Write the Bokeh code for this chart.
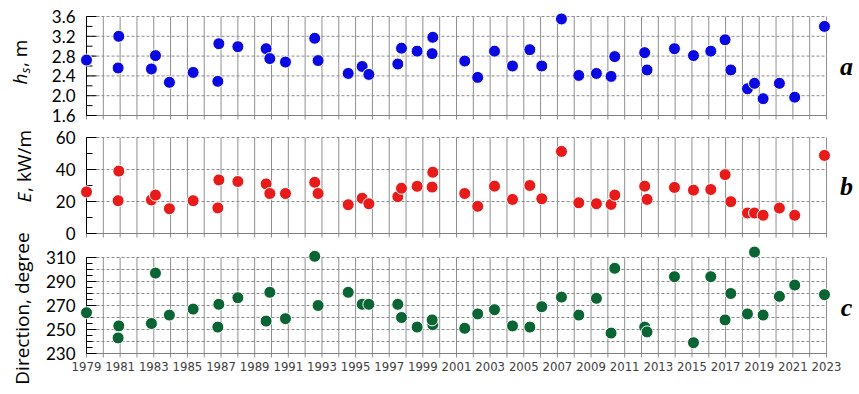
from math import pi
from bokeh.plotting import figure
from bokeh.layouts import column, row
from bokeh.models import Range1d, Label
from bokeh.core.properties import value
from bokeh.embed import file_html
from bokeh.resources import INLINE

# ---------------- data ----------------
years = list(range(1979, 2024))
year_labels = years[::2]
year_label_text = [str(y) for y in year_labels]

event_time = [1979.0, 1980.92, 1980.88, 1982.86, 1983.1, 1983.93, 1985.34, 1986.87, 1986.81,
              1988.0, 1989.68, 1989.9, 1990.83, 1992.57, 1992.77, 1994.56, 1995.39, 1995.79,
              1997.51, 1997.73, 1998.66, 1999.59, 1999.55, 2001.49, 2002.26, 2003.26, 2004.33,
              2005.36, 2006.07, 2007.24, 2008.27, 2009.32, 2010.19, 2010.41, 2012.19, 2012.33,
              2013.96, 2015.09, 2016.12, 2016.97, 2017.31, 2018.30, 2018.72, 2019.23, 2020.20,
              2021.11, 2022.88]

hs = [2.72, 3.20, 2.56, 2.54, 2.81, 2.27, 2.47, 3.05, 2.29, 2.99, 2.95, 2.75, 2.68,
      3.16, 2.71, 2.45, 2.59, 2.43, 2.64, 2.96, 2.90, 3.18, 2.85, 2.70, 2.37, 2.90, 2.60,
      2.93, 2.60, 3.55, 2.41, 2.45, 2.39, 2.79, 2.87, 2.52, 2.95, 2.81, 2.90, 3.13, 2.52,
      2.14, 2.25, 1.94, 2.25, 1.97, 3.40]

energy = [26, 39, 20.5, 21, 24, 15.5, 20.5, 33.5, 16, 32.5, 31, 25, 25,
          32, 25, 18, 22, 18.6, 23, 28.3, 29.5, 38.3, 29, 25, 17, 29.6, 21.3,
          30, 21.7, 51.3, 19.2, 18.6, 18.2, 24, 29.6, 21.3, 28.8, 27.1, 27.5, 36.8, 19.9,
          12.8, 12.8, 11.4, 15.9, 11.4, 48.8]

direction = [264, 253, 243, 255, 297, 262, 267, 271, 252, 276.5, 257, 281, 259,
             311, 270, 281, 271, 271, 271, 260, 252, 254, 258, 251, 263, 266.5, 253,
             252, 269, 277, 262, 276, 247, 301, 252, 248, 294, 239, 294, 258, 280,
             263, 314.5, 262, 277.6, 287, 279]

hs_ticks = [1.6, 2.0, 2.4, 2.8, 3.2, 3.6]
hs_tick_labels = ["1.6", "2.0", "2.4", "2.8", "3.2", "3.6"]
hs_minor = [1.8, 2.2, 2.6, 3.0, 3.4]
hs_grid = [2.0, 2.4, 2.8, 3.2, 3.6]

e_ticks = [0, 20, 40, 60]
e_tick_labels = ["0", "20", "40", "60"]
e_minor = [10, 30, 50]
e_grid = [20, 40, 60]

dir_ticks = [230, 250, 270, 290, 310]
dir_tick_labels = ["230", "250", "270", "290", "310"]
dir_minor = [235, 240, 245, 255, 260, 265, 275, 280, 285, 295, 300, 305]
dir_grid = [240, 250, 260, 270, 280, 290, 300, 310]

# ---------------- layout constants (pixels) ----------------
LBL_W = 44
PANEL_W = 813
AXIS_X_PX = 86          # where the first year sits on the page
LAST_X_PX = 826         # where the last year sits on the page
PAGE_RIGHT = LBL_W + PANEL_W
PX_PER_YEAR = (LAST_X_PX - AXIS_X_PX) / (years[-1] - years[0])
X_START = years[0] - (AXIS_X_PX - LBL_W) / PX_PER_YEAR
X_END = years[-1] + (PAGE_RIGHT - LAST_X_PX) / PX_PER_YEAR
MAJ_LEN = 10 / PX_PER_YEAR
MIN_LEN = 6 / PX_PER_YEAR
TICK_OUT_PX = 4
LETTER_X_PX = 846
GRID_COLOR = "#8f8f8f"
DASH_COLOR = "#8a8a8a"
AXIS_GREY = "#808080"
TICK_FONT = "Lato"
LABEL_FONT = "Open Sans"
YEAR_FONT = "'Liberation Sans Narrow', 'DejaVu Sans Condensed', sans-serif"


def make_panel(ticks, tick_labels, minor, gridvals, color, yvals,
               fig_top, fig_bot, px_lo, px_hi, xlabels, letter, letter_px):
    scale = (px_lo - px_hi) / (ticks[-1] - ticks[0])        # pixels per unit
    y_start = ticks[0] - (fig_bot - px_lo) / scale
    y_end = ticks[-1] + (px_hi - fig_top) / scale
    p = figure(width=PANEL_W, height=fig_bot - fig_top,
               x_range=Range1d(X_START, X_END), y_range=Range1d(y_start, y_end),
               output_backend="svg", toolbar_location=None,
               x_axis_location=None, y_axis_location=None, min_border=0)
    p.outline_line_color = None
    p.xgrid.visible = False
    p.ygrid.visible = False

    x0 = years[0]
    x1 = years[-1]
    n = len(years)
    tick_out = TICK_OUT_PX / scale
    # vertical year lines (extend below as tick marks)
    p.segment(x0=years, y0=[ticks[0] - tick_out] * n, x1=years, y1=[ticks[-1]] * n,
              line_color=GRID_COLOR, line_width=1)
    # horizontal dashed lines
    m = len(gridvals)
    p.segment(x0=[x0] * m, y0=gridvals, x1=[x1] * m, y1=gridvals,
              line_color=DASH_COLOR, line_width=1, line_dash="3 2")
    # bottom axis line
    p.segment(x0=[x0], y0=[ticks[0]], x1=[x1], y1=[ticks[0]], line_color=AXIS_GREY, line_width=1)

    # left axis
    p.segment(x0=[x0], y0=[ticks[0]], x1=[x0], y1=[ticks[-1]], line_color="black", line_width=1)
    k = len(ticks)
    p.segment(x0=[x0] * k, y0=ticks, x1=[x0 + MAJ_LEN] * k, y1=ticks,
              line_color="black", line_width=1)
    j = len(minor)
    p.segment(x0=[x0] * j, y0=minor, x1=[x0 + MIN_LEN] * j, y1=minor,
              line_color="black", line_width=1)
    p.text(x=[x0] * k, y=ticks, text=tick_labels, x_offset=-11,
           text_align="right", text_baseline="middle",
           text_font=value(TICK_FONT), text_font_size="17px", text_color="black")

    if xlabels:
        p.text(x=year_labels, y=[ticks[0]] * len(year_labels), text=year_label_text,
               y_offset=8, text_align="center", text_baseline="top",
               text_font=value(YEAR_FONT), text_font_size="13px", text_color="#404040")

    p.scatter(x=event_time, y=yvals, size=12, marker="circle",
              fill_color=color, line_color="white", line_width=1)

    # panel letter
    letter_x = x1 + (LETTER_X_PX - LAST_X_PX) / PX_PER_YEAR
    letter_y = ticks[0] + (px_lo - letter_px) / scale
    p.text(x=[letter_x], y=[letter_y], text=[letter],
           text_align="center", text_baseline="middle",
           text_font=value("Liberation Serif"), text_font_style=value("bold italic"),
           text_font_size="26px", text_color="black")
    return p


pa = make_panel(hs_ticks, hs_tick_labels, hs_minor, hs_grid, "#0a0ae0", hs,
                0, 125, 115, 16, False, "a", 66)
pb = make_panel(e_ticks, e_tick_labels, e_minor, e_grid, "#e81b1b", energy,
                125, 244, 233, 137, False, "b", 186)
pc = make_panel(dir_ticks, dir_tick_labels, dir_minor, dir_grid, "#0b6434", direction,
                244, 379, 353, 257, True, "c", 307)

# left strip with rotated axis titles
LBL_H = 390
pl = figure(width=LBL_W, height=LBL_H, x_range=Range1d(0, LBL_W), y_range=Range1d(0, LBL_H),
            output_backend="svg", toolbar_location=None, min_border=0,
            x_axis_type=None, y_axis_type=None)
pl.outline_line_color = None
pl.xgrid.visible = False
pl.ygrid.visible = False


def lbl(x_px, y_px, text, size="19px", style="normal", align="left"):
    pl.add_layout(Label(x=x_px, y=LBL_H - y_px, text=text, angle=pi / 2, text_font=LABEL_FONT,
                        text_font_style=style, text_font_size=size, text_align=align,
                        text_baseline="middle", text_color="black"))


lbl(19, 84, "h", style="italic")
lbl(24, 72.8, "s", size="13px", style="italic")
lbl(19, 66.5, ", m")
lbl(23, 202, "E", style="italic")
lbl(23, 191.4, ", kW/m")
lbl(21, 308, "Direction, degree", align="center")

layout = row(pl, column(pa, pb, pc, spacing=0), spacing=0)
open("out.html", "w").write(file_html(layout, INLINE))
